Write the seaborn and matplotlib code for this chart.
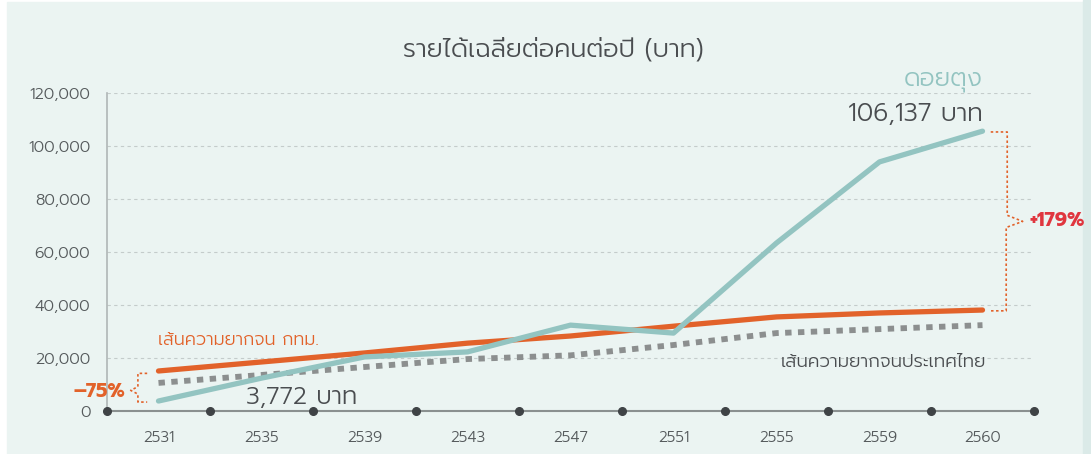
import numpy as np
import pandas as pd
import seaborn as sns
import matplotlib
matplotlib.use("Agg")
import matplotlib.pyplot as plt
from matplotlib.patches import Rectangle

# data (Thai Buddhist-era years)
years = ['2531', '2535', '2539', '2543', '2547', '2551', '2555', '2559', '2560']
doi_tung = [3772, 12400, 20400, 22300, 32400, 29400, 63400, 94000, 105600]
bkk_poverty = [15100, 18500, 21900, 25600, 28300, 32000, 35500, 37000, 38100]
th_poverty = [10600, 13600, 16600, 19600, 21000, 24900, 29400, 30900, 32400]
yticks = [0, 20000, 40000, 60000, 80000, 100000, 120000]

TEAL = '#93c4c1'
ORANGE = '#e2622a'
GREY = '#8c8f8f'
TEXT = '#4a4d50'
RED = '#e0363f'
BG = '#ebf4f2'

df = pd.DataFrame({'x': range(len(years)), 'doi': doi_tung,
                   'bkk': bkk_poverty, 'th': th_poverty})

sns.set_theme(style='white')
plt.rcParams['font.family'] = ['Prompt', 'DejaVu Sans']
plt.rcParams['font.weight'] = 300

fig = plt.figure(figsize=(10.91, 4.54), dpi=100, facecolor='white')
fig.patches.append(Rectangle((7 / 1091, 0), (1083 - 7) / 1091, 1 - 2 / 454,
                             transform=fig.transFigure, color=BG, zorder=-2))
fig.patches.append(Rectangle((1083 / 1091, 0), 8 / 1091, 1,
                             transform=fig.transFigure, color='#dbeae8', zorder=-2))
ax = fig.add_axes([107 / 1091, 1 - 411 / 454, (1034 - 107) / 1091, (411 - 93) / 454])
ax.set_facecolor('none')

sns.lineplot(data=df, x='x', y='th', ax=ax, color=GREY, linewidth=4.2,
             linestyle=(0, (1.1, 1.1)), dash_capstyle='butt', zorder=3)
sns.lineplot(data=df, x='x', y='bkk', ax=ax, color=ORANGE, linewidth=3.8, zorder=4)
sns.lineplot(data=df, x='x', y='doi', ax=ax, color=TEAL, linewidth=3.8, zorder=5)

n = len(years)
ax.set_xlim(-0.5, n - 0.5)
ax.set_ylim(0, 120000)
ax.set_yticks(yticks)
ax.set_yticklabels([f'{v:,}' for v in yticks], fontsize=11.5, color='#555a5c')
ax.set_xticks(range(n))
ax.set_xticklabels(years, fontsize=11, color='#555a5c')
ax.tick_params(axis='both', length=0)
ax.tick_params(axis='x', pad=14)
ax.tick_params(axis='y', pad=12)
ax.set_xlabel('')
ax.set_ylabel('')
for y in yticks[1:]:
    ax.axhline(y, color='#c4cccb', linewidth=0.8, linestyle=(0, (3, 3)), zorder=1)
for s in ['top', 'right']:
    ax.spines[s].set_visible(False)
ax.spines['left'].set_color('#b0b6b6')
ax.spines['left'].set_linewidth(1.2)
ax.spines['bottom'].set_color('#8a9090')
ax.spines['bottom'].set_linewidth(1.5)
bounds = np.arange(n + 1) - 0.5
ax.plot(bounds, np.zeros(n + 1), 'o', color='#3f4346', markersize=5.5,
        clip_on=False, zorder=6)

# title
fig.text(0.507, 1 - 50 / 454, 'รายได้เฉลี่ยต่อคนต่อปี (บาท)', ha='center',
         va='center', fontsize=18.5, color=TEXT)

# annotations
ax.text(n - 1, 112000, '106,137 บาท', ha='right', va='center', fontsize=18, color=TEXT)
ax.text(n - 1, 125000, 'ดอยตุง', ha='right', va='center', fontsize=18, color=TEAL)
ax.text(0.85, 5200, '3,772 บาท', ha='left', va='center', fontsize=17.5, color=TEXT)
ax.text(0, 26800, 'เส้นความยากจน กทม.', ha='left', va='center', fontsize=12.7, color=ORANGE)
ax.text(n - 0.96, 18300, 'เส้นความยากจนประเทศไทย', ha='right', va='center',
        fontsize=13.2, color=TEXT)

# braces: right one from doi tung to bkk poverty line at the last year
top, bot = doi_tung[-1] - 300, bkk_poverty[-1] - 300
mid = (top + bot) / 2
bx = [n - 1 + 0.08, n - 1 + 0.24, n - 1 + 0.24, n - 1 + 0.39,
      n - 1 + 0.23, n - 1 + 0.23, n - 1 + 0.08]
by = [top, top, mid + 2300, mid, mid - 2300, bot, bot]
ax.plot(bx, by, color=ORANGE, linewidth=1.2, linestyle=(0, (1.5, 1.5)), clip_on=False)
ax.text(n - 1 + 0.46, mid + 500, '+179%', ha='left', va='center', fontsize=14,
        fontweight='bold', color=RED)

# left one from bkk poverty line to doi tung at the first year
top, bot = bkk_poverty[0] - 900, doi_tung[0] - 400
mid = (top + bot) / 2 - 1000
lx = [-0.11, -0.2, -0.2, -0.27, -0.2, -0.2, -0.11]
ly = [top, top, mid + 1400, mid, mid - 1400, bot, bot]
ax.plot(lx, ly, color=ORANGE, linewidth=1.2, linestyle=(0, (1.5, 1.5)), clip_on=False)
ax.text(-0.32, mid - 300, '–75%', ha='right', va='center', fontsize=14,
        fontweight='bold', color=ORANGE)

fig.savefig('out.png', dpi=100, facecolor='white')
